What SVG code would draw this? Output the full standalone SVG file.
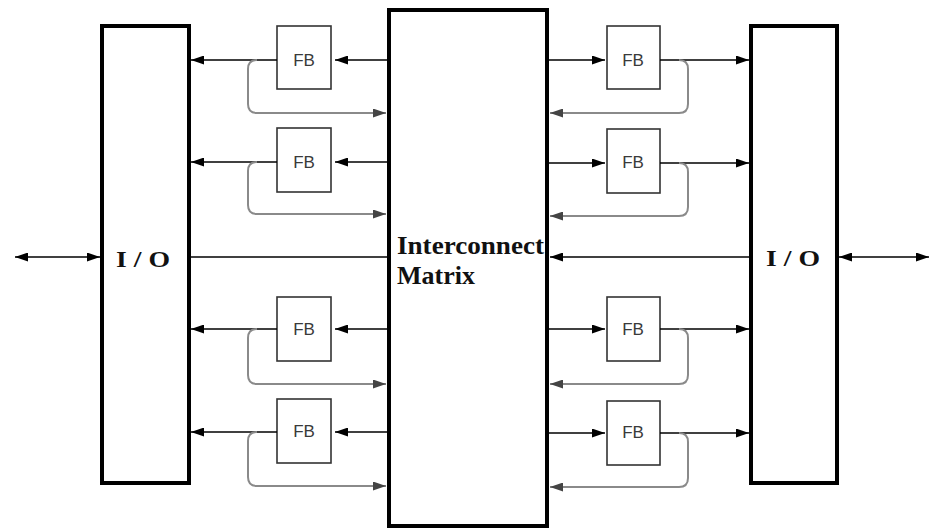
<svg xmlns="http://www.w3.org/2000/svg" width="930" height="528" viewBox="0 0 930 528">
<style>
.big{fill:none;stroke:#000;stroke-width:4}
.fb rect{fill:#fff;stroke:#333;stroke-width:1.6}
.fb text{font-family:"Liberation Sans",Arial,sans-serif;font-size:17px;fill:#3a3a3a;text-anchor:middle}
.lbl{font-family:"Liberation Serif","Times New Roman",serif;font-weight:bold;fill:#111}
.ln{fill:none;stroke:#000;stroke-width:1.6}
.fbk{fill:none;stroke:#8a8a8a;stroke-width:2}
</style>
<defs>
<marker id="ah" viewBox="0 0 13 9" refX="13" refY="4.5" markerWidth="13" markerHeight="9" markerUnits="userSpaceOnUse" orient="auto-start-reverse">
<path d="M0,0 L13,4.5 L0,9 Z" fill="#000"/>
</marker>
<marker id="ag" viewBox="0 0 13 9" refX="13" refY="4.5" markerWidth="13" markerHeight="9" markerUnits="userSpaceOnUse" orient="auto">
<path d="M0,0 L13,4.5 L0,9 Z" fill="#444"/>
</marker>
</defs>
<rect width="930" height="528" fill="#fff"/>
<g id="io-left">
<rect class="big" x="102" y="26" width="87" height="457"/>
<text class="lbl" x="116" y="267" font-size="24" textLength="54" lengthAdjust="spacingAndGlyphs">I / O</text>
</g>
<g id="matrix">
<rect class="big" x="389" y="10" width="158" height="516"/>
<text class="lbl" x="397" y="254" font-size="26" textLength="147" lengthAdjust="spacingAndGlyphs">Interconnect</text>
<text class="lbl" x="397" y="284" font-size="26">Matrix</text>
</g>
<g id="io-right">
<rect class="big" x="751" y="26" width="86" height="457"/>
<text class="lbl" x="766" y="266" font-size="24" textLength="54" lengthAdjust="spacingAndGlyphs">I / O</text>
</g>
<g id="fb-l1" class="fb"><rect x="277" y="26" width="54" height="63"/><text x="304" y="66">FB</text></g>
<g id="fb-l2" class="fb"><rect x="277" y="128" width="54" height="64"/><text x="304" y="168">FB</text></g>
<g id="fb-l3" class="fb"><rect x="277" y="297" width="54" height="64"/><text x="304" y="335">FB</text></g>
<g id="fb-l4" class="fb"><rect x="277" y="399" width="54" height="64"/><text x="304" y="437">FB</text></g>
<g id="fb-r1" class="fb"><rect x="607" y="26" width="53" height="63"/><text x="633" y="66">FB</text></g>
<g id="fb-r2" class="fb"><rect x="607" y="129" width="53" height="64"/><text x="633" y="168">FB</text></g>
<g id="fb-r3" class="fb"><rect x="607" y="297" width="53" height="64"/><text x="633" y="335">FB</text></g>
<g id="fb-r4" class="fb"><rect x="607" y="401" width="53" height="64"/><text x="633" y="438">FB</text></g>
<g id="connectors">
<path class="ln" d="M387 60 H335" marker-end="url(#ah)"/>
<path class="ln" d="M277 60 H191" marker-end="url(#ah)"/>
<path class="fbk" d="M257 60 Q248 60 248 69 V104 Q248 113 257 113 H386" marker-end="url(#ag)"/>
<path class="ln" d="M387 162 H335" marker-end="url(#ah)"/>
<path class="ln" d="M277 162 H191" marker-end="url(#ah)"/>
<path class="fbk" d="M257 162 Q248 162 248 171 V205 Q248 214 257 214 H386" marker-end="url(#ag)"/>
<path class="ln" d="M387 329 H335" marker-end="url(#ah)"/>
<path class="ln" d="M277 329 H191" marker-end="url(#ah)"/>
<path class="fbk" d="M257 329 Q248 329 248 338 V375 Q248 384 257 384 H386" marker-end="url(#ag)"/>
<path class="ln" d="M387 432 H335" marker-end="url(#ah)"/>
<path class="ln" d="M277 432 H191" marker-end="url(#ah)"/>
<path class="fbk" d="M257 432 Q248 432 248 441 V477 Q248 486 257 486 H386" marker-end="url(#ag)"/>
<path class="ln" d="M549 60 H605" marker-end="url(#ah)"/>
<path class="ln" d="M660 60 H749" marker-end="url(#ah)"/>
<path class="fbk" d="M679 60 Q688 60 688 69 V104 Q688 113 679 113 H550" marker-end="url(#ag)"/>
<path class="ln" d="M549 163 H605" marker-end="url(#ah)"/>
<path class="ln" d="M660 163 H749" marker-end="url(#ah)"/>
<path class="fbk" d="M679 163 Q688 163 688 172 V207 Q688 216 679 216 H550" marker-end="url(#ag)"/>
<path class="ln" d="M549 329 H605" marker-end="url(#ah)"/>
<path class="ln" d="M660 329 H749" marker-end="url(#ah)"/>
<path class="fbk" d="M679 329 Q688 329 688 338 V375 Q688 384 679 384 H550" marker-end="url(#ag)"/>
<path class="ln" d="M549 433 H605" marker-end="url(#ah)"/>
<path class="ln" d="M660 433 H749" marker-end="url(#ah)"/>
<path class="fbk" d="M679 433 Q688 433 688 442 V478 Q688 487 679 487 H550" marker-end="url(#ag)"/>
<path class="ln" d="M189 257 H387"/>
<path class="ln" d="M751 257 H550" marker-end="url(#ah)"/>
<path class="ln" d="M15 257 H100" marker-start="url(#ah)" marker-end="url(#ah)"/>
<path class="ln" d="M839 257 H929" marker-start="url(#ah)" marker-end="url(#ah)"/>
</g>
</svg>
